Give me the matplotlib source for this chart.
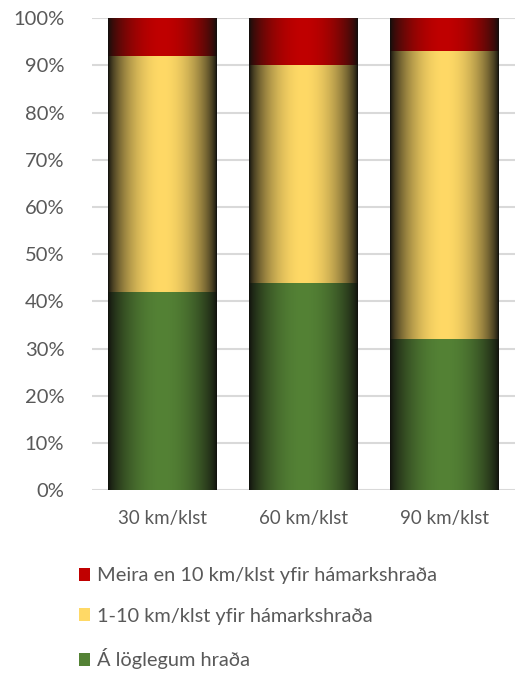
import numpy as np
import matplotlib
matplotlib.use("Agg")
import matplotlib.pyplot as plt
from matplotlib.patches import Patch
from matplotlib.colors import to_rgb

categories = ["30 km/klst", "60 km/klst", "90 km/klst"]
legal = [42, 44, 32]
over_1_10 = [50, 46, 61]
over_10 = [8, 10, 7]
series_labels = ["Á löglegum hraða", "1-10 km/klst yfir hámarkshraða", "Meira en 10 km/klst yfir hámarkshraða"]
series_colors = ["#548235", "#FFD966", "#C00000"]
yticks = [0, 10, 20, 30, 40, 50, 60, 70, 80, 90, 100]

plt.rcParams['font.family'] = ['Lato', 'DejaVu Sans']
fig = plt.figure(figsize=(5.2, 6.77), dpi=100)
ax = fig.add_axes([0.177, 0.276, 0.813, 0.697])

x = np.arange(len(categories))
series = [legal, over_1_10, over_10]
bottom = np.zeros(len(categories))
width = 0.77

t = np.linspace(0, 1, 200)
prof = np.clip(np.sin(np.pi * t), 0, 1) ** 0.7

for vals, col in zip(series, series_colors):
    bars = ax.bar(x, vals, width, bottom=bottom, color='none', edgecolor='none', zorder=2)
    c = np.array(to_rgb(col))
    dark = np.array([0.06, 0.06, 0.05])
    img = dark[None, :] * (1 - prof[:, None]) + c[None, :] * prof[:, None]
    img = img[None, :, :]
    for b in bars:
        x0, y0 = b.get_x(), b.get_y()
        w, h = b.get_width(), b.get_height()
        ax.imshow(img, extent=[x0, x0 + w, y0, y0 + h], aspect='auto', zorder=3, interpolation='bilinear')
    bottom = bottom + np.array(vals)

ax.set_xlim(-0.5, len(categories) - 0.5)
ax.set_ylim(0, 100)
ax.set_yticks(yticks)
ax.set_yticklabels([f"{v}%" for v in yticks])
ax.set_xticks(x)
ax.set_xticklabels(categories)
ax.yaxis.grid(True, color='#D9D9D9', linewidth=1.5, zorder=0)
ax.set_axisbelow(True)
for s in ax.spines.values():
    s.set_visible(False)
ax.tick_params(axis='x', length=0, colors='#595959', labelsize=13.5, pad=14)
ax.tick_params(axis='y', length=0, colors='#595959', labelsize=14.5, pad=20)

handles = [Patch(facecolor=series_colors[i]) for i in [2, 1, 0]]
labels = [series_labels[i] for i in [2, 1, 0]]
leg = fig.legend(handles, labels, loc='upper left', bbox_to_anchor=(0.136, 0.174),
                 frameon=False, fontsize=14.4, handlelength=0.55, handleheight=0.6,
                 handletextpad=0.35, labelspacing=1.18, borderaxespad=0)
for txt in leg.get_texts():
    txt.set_color('#595959')

fig.savefig("out.png", dpi=100)
